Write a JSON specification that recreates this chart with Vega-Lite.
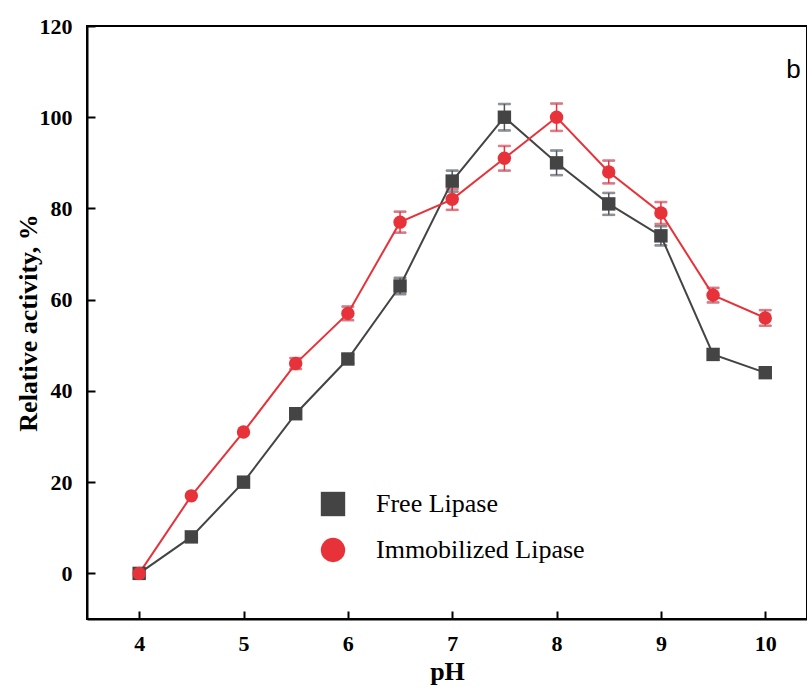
{
  "$schema": "https://vega.github.io/schema/vega-lite/v6.json",
  "width": 720,
  "height": 593,
  "autosize": {"type": "none"},
  "padding": {"left": 87, "top": 26, "right": 0, "bottom": 70},
  "background": "white",
  "config": {
    "view": {"stroke": "black", "strokeWidth": 2},
    "axis": {
      "domainColor": "black", "domainWidth": 2, "tickColor": "black", "tickWidth": 2,
      "tickSize": -8, "grid": false,
      "labelFont": "Liberation Serif", "labelFontWeight": "bold", "labelFontSize": 22, "labelColor": "black",
      "titleFont": "Liberation Serif", "titleFontWeight": "bold", "titleFontSize": 26, "titleColor": "black"
    },
    "legend": {"padding": 0}
  },
  "datasets": {
    "main": [
      {"pH": 4, "series": "Free Lipase", "act": 0},
      {"pH": 4.5, "series": "Free Lipase", "act": 8},
      {"pH": 5, "series": "Free Lipase", "act": 20},
      {"pH": 5.5, "series": "Free Lipase", "act": 35},
      {"pH": 6, "series": "Free Lipase", "act": 47},
      {"pH": 6.5, "series": "Free Lipase", "act": 63},
      {"pH": 7, "series": "Free Lipase", "act": 86},
      {"pH": 7.5, "series": "Free Lipase", "act": 100},
      {"pH": 8, "series": "Free Lipase", "act": 90},
      {"pH": 8.5, "series": "Free Lipase", "act": 81},
      {"pH": 9, "series": "Free Lipase", "act": 74},
      {"pH": 9.5, "series": "Free Lipase", "act": 48},
      {"pH": 10, "series": "Free Lipase", "act": 44},
      {"pH": 4, "series": "Immobilized Lipase", "act": 0},
      {"pH": 4.5, "series": "Immobilized Lipase", "act": 17},
      {"pH": 5, "series": "Immobilized Lipase", "act": 31},
      {"pH": 5.5, "series": "Immobilized Lipase", "act": 46},
      {"pH": 6, "series": "Immobilized Lipase", "act": 57},
      {"pH": 6.5, "series": "Immobilized Lipase", "act": 77},
      {"pH": 7, "series": "Immobilized Lipase", "act": 82},
      {"pH": 7.5, "series": "Immobilized Lipase", "act": 91},
      {"pH": 8, "series": "Immobilized Lipase", "act": 100},
      {"pH": 8.5, "series": "Immobilized Lipase", "act": 88},
      {"pH": 9, "series": "Immobilized Lipase", "act": 79},
      {"pH": 9.5, "series": "Immobilized Lipase", "act": 61},
      {"pH": 10, "series": "Immobilized Lipase", "act": 56}
    ],
    "err": [
      {"pH": 6, "grp": "Free Lipase", "lo": 46, "hi": 48},
      {"pH": 6.5, "grp": "Free Lipase", "lo": 61.2, "hi": 64.8},
      {"pH": 7, "grp": "Free Lipase", "lo": 83.7, "hi": 88.3},
      {"pH": 7.5, "grp": "Free Lipase", "lo": 97.1, "hi": 102.9},
      {"pH": 8, "grp": "Free Lipase", "lo": 87.3, "hi": 92.7},
      {"pH": 8.5, "grp": "Free Lipase", "lo": 78.6, "hi": 83.4},
      {"pH": 9, "grp": "Free Lipase", "lo": 71.9, "hi": 76.1},
      {"pH": 5.5, "grp": "Immobilized Lipase", "lo": 44.8, "hi": 47.2},
      {"pH": 6, "grp": "Immobilized Lipase", "lo": 55.5, "hi": 58.5},
      {"pH": 6.5, "grp": "Immobilized Lipase", "lo": 74.7, "hi": 79.3},
      {"pH": 7, "grp": "Immobilized Lipase", "lo": 79.7, "hi": 84.3},
      {"pH": 7.5, "grp": "Immobilized Lipase", "lo": 88.3, "hi": 93.7},
      {"pH": 8, "grp": "Immobilized Lipase", "lo": 97, "hi": 103},
      {"pH": 8.5, "grp": "Immobilized Lipase", "lo": 85.5, "hi": 90.5},
      {"pH": 9, "grp": "Immobilized Lipase", "lo": 76.6, "hi": 81.4},
      {"pH": 9.5, "grp": "Immobilized Lipase", "lo": 59.4, "hi": 62.6},
      {"pH": 10, "grp": "Immobilized Lipase", "lo": 54.3, "hi": 57.7}
    ],
    "label": [{"pH": 10.27, "act": 110.4, "txt": "b"}]
  },
  "layer": [
    {
      "data": {"name": "err"},
      "mark": {"type": "rule", "strokeWidth": 1.5},
      "encoding": {
        "x": {"field": "pH", "type": "quantitative", "scale": {"domain": [3.5, 10.4], "nice": false, "zero": false}},
        "y": {"field": "lo", "type": "quantitative", "scale": {"domain": [-10, 120], "nice": false, "zero": false}},
        "y2": {"field": "hi"},
        "stroke": {"field": "grp", "type": "nominal", "scale": {"domain": ["Free Lipase", "Immobilized Lipase"], "range": ["#555555", "#e8323a"]}, "legend": null}
      }
    },
    {
      "data": {"name": "err"},
      "mark": {"type": "tick", "orient": "horizontal", "size": 12, "thickness": 1.5},
      "encoding": {
        "x": {"field": "pH", "type": "quantitative", "scale": {"domain": [3.5, 10.4], "nice": false, "zero": false}},
        "y": {"field": "lo", "type": "quantitative", "scale": {"domain": [-10, 120], "nice": false, "zero": false}},
        "stroke": {"field": "grp", "type": "nominal", "legend": null}
      }
    },
    {
      "data": {"name": "err"},
      "mark": {"type": "tick", "orient": "horizontal", "size": 12, "thickness": 1.5},
      "encoding": {
        "x": {"field": "pH", "type": "quantitative", "scale": {"domain": [3.5, 10.4], "nice": false, "zero": false}},
        "y": {"field": "hi", "type": "quantitative", "scale": {"domain": [-10, 120], "nice": false, "zero": false}},
        "stroke": {"field": "grp", "type": "nominal", "legend": null}
      }
    },
    {
      "data": {"name": "main"},
      "mark": {"type": "line", "strokeWidth": 2},
      "encoding": {
        "x": {"field": "pH", "type": "quantitative", "scale": {"domain": [3.5, 10.4], "nice": false, "zero": false}, "axis": {"values": [4, 5, 6, 7, 8, 9, 10], "format": "d", "title": "pH", "labelPadding": 22, "titlePadding": 4}},
        "y": {"field": "act", "type": "quantitative", "scale": {"domain": [-10, 120], "nice": false, "zero": false}, "axis": {"values": [0, 20, 40, 60, 80, 100, 120], "format": "d", "title": "Relative activity, %", "labelPadding": 23, "titlePadding": -2}},
        "color": {
          "field": "series", "type": "nominal",
          "scale": {"domain": ["Free Lipase", "Immobilized Lipase"], "range": ["#444444", "#e8323a"]},
          "legend": null
        }
      }
    },
    {
      "data": {"name": "main"},
      "transform": [{"calculate": "datum.series", "as": "kind"}],
      "mark": {"type": "point", "filled": true, "opacity": 1, "size": 180},
      "encoding": {
        "x": {"field": "pH", "type": "quantitative", "scale": {"domain": [3.5, 10.4], "nice": false, "zero": false}},
        "y": {"field": "act", "type": "quantitative", "scale": {"domain": [-10, 120], "nice": false, "zero": false}},
        "fill": {"field": "kind", "type": "nominal", "scale": {"range": ["#444444", "#e8323a"]}, "legend": null},
        "shape": {"field": "kind", "type": "nominal", "scale": {"range": ["square", "circle"]},
          "legend": {
            "orient": "none", "legendX": 233, "legendY": 465, "title": null,
            "symbolSize": 595,
            "labelFont": "Liberation Serif", "labelFontSize": 26, "labelColor": "black",
            "labelOffset": 30, "labelLimit": 400, "rowPadding": 14,
            "encode": {
              "symbols": {
                "shape": {"value": {"expr": "datum.value === 'Free Lipase' ? 'M-3,0H3M-0.5,-0.5H0.5V0.5H-0.5Z' : 'M-3,0H3M0.5,0C0.5,0.276 0.276,0.5 0,0.5C-0.276,0.5 -0.5,0.276 -0.5,0C-0.5,-0.276 -0.276,-0.5 0,-0.5C0.276,-0.5 0.5,-0.276 0.5,0Z'"}},
                "stroke": {"value": {"expr": "scale('fill', datum.value)"}},
                "strokeWidth": {"value": 2}
              }
            }
          }}
      }
    },
    {
      "data": {"name": "label"},
      "mark": {"type": "text", "font": "Liberation Sans", "fontSize": 26, "color": "black", "align": "center", "baseline": "middle"},
      "encoding": {
        "x": {"field": "pH", "type": "quantitative", "scale": {"domain": [3.5, 10.4], "nice": false, "zero": false}},
        "y": {"field": "act", "type": "quantitative", "scale": {"domain": [-10, 120], "nice": false, "zero": false}},
        "text": {"field": "txt"}
      }
    }
  ]
}
